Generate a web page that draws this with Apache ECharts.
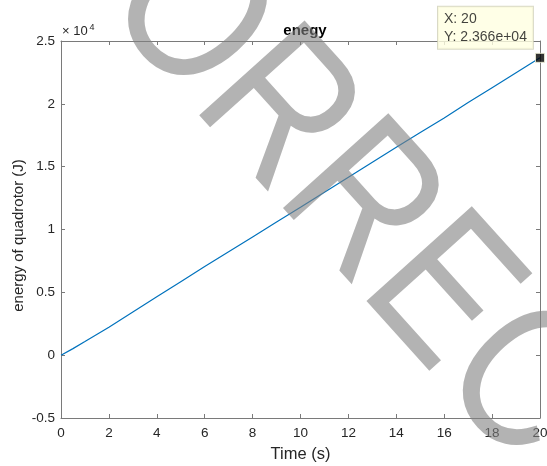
<!DOCTYPE html>
<html>
<head>
<meta charset="utf-8">
<script src="https://cdn.jsdelivr.net/npm/echarts@6/dist/echarts.min.js"></script>
<style>
html,body{margin:0;padding:0;background:#fff;}
#c{width:547px;height:466px;}
</style>
</head>
<body>
<div id="c"></div>
<script>
// ---- data ----
var times  = [0, 0.5, 1, 2, 3, 4, 5, 6, 7, 8, 9, 10, 11, 12, 13, 14, 15, 16, 17, 18, 19, 20];
var energy = [0, 520, 1080, 2230, 3430, 4640, 5850, 7050, 8230, 9410, 10590, 11770, 12960, 14160, 15360, 16540, 17710, 18880, 20100, 21280, 22470, 23660];
var xTicks = [0, 2, 4, 6, 8, 10, 12, 14, 16, 18, 20];
var yTicks = [-0.5, 0, 0.5, 1, 1.5, 2, 2.5]; // ×10^4
var titleText = 'enegy';
var xName = 'Time (s)';
var yName = 'energy of quadrotor (J)';
var watermark = 'CORRECTED';

var FONT = '"Liberation Sans", Arial, Helvetica, sans-serif';
var AX = '#7a7a7a';
var TXT = '#262626';

var pts = times.map(function (t, i) { return [t, energy[i]]; });
var tipPt = [times[times.length - 1], energy[energy.length - 1]];

function fmtExp(v) {
  var s = v.toExponential(3);
  return s.replace(/e([+-])(\d)$/, 'e$10$2');
}

var chart = echarts.init(document.getElementById('c'), null, {renderer: 'canvas'});
var axisCommon = {
  axisLine: {show: true, onZero: false, lineStyle: {color: AX, width: 1}},
  axisTick: {show: true, inside: true, length: 4, lineStyle: {color: AX, width: 1}},
  splitLine: {show: false}
};
chart.setOption({
  animation: false,
  backgroundColor: '#fff',
  title: {
    text: titleText, left: 300, top: 18, textAlign: 'center',
    textStyle: {fontFamily: FONT, fontSize: 15, fontWeight: 'bold', color: '#000'}
  },
  grid: {left: 61, right: 7, top: 41, bottom: 48, containLabel: false, outerBoundsMode: 'none'},
  xAxis: [
    Object.assign({
      type: 'value', min: xTicks[0], max: xTicks[xTicks.length - 1], interval: xTicks[1] - xTicks[0],
      position: 'bottom',
      name: xName, nameLocation: 'middle', nameGap: 28, nameMoveOverlap: false,
      nameTextStyle: {fontFamily: FONT, fontSize: 16.5, color: TXT},
      axisLabel: {fontFamily: FONT, fontSize: 13.5, color: TXT, margin: 8}
    }, axisCommon),
    Object.assign({
      type: 'value', min: xTicks[0], max: xTicks[xTicks.length - 1], interval: xTicks[1] - xTicks[0],
      position: 'top', axisLabel: {show: false}
    }, axisCommon)
  ],
  yAxis: [
    Object.assign({
      type: 'value', min: yTicks[0] * 1e4, max: yTicks[yTicks.length - 1] * 1e4, interval: (yTicks[1] - yTicks[0]) * 1e4,
      position: 'left',
      name: yName, nameLocation: 'middle', nameGap: 35, nameMoveOverlap: false,
      nameTextStyle: {fontFamily: FONT, fontSize: 15, color: TXT, padding: [0, 12, 0, 0]},
      axisLabel: {fontFamily: FONT, fontSize: 13.5, color: TXT, margin: 6,
        formatter: function (v) { return String(Math.round(v / 1e4 * 10) / 10); }}
    }, axisCommon),
    Object.assign({
      type: 'value', min: yTicks[0] * 1e4, max: yTicks[yTicks.length - 1] * 1e4, interval: (yTicks[1] - yTicks[0]) * 1e4,
      position: 'right', axisLabel: {show: false}
    }, axisCommon)
  ],
  series: [
    {
      type: 'line', data: pts, showSymbol: false, smooth: false,
      lineStyle: {color: '#0072bd', width: 1.2}, itemStyle: {color: '#0072bd'}, z: 3
    },
    {
      type: 'scatter', data: [tipPt], symbol: 'rect', symbolSize: 9,
      itemStyle: {color: '#000', borderColor: '#f2f2d8', borderWidth: 1},
      z: 5,
      label: {
        show: true, position: [-97, -4], align: 'left', verticalAlign: 'bottom',
        formatter: function (p) { return 'X: ' + p.value[0] + '\nY: ' + fmtExp(p.value[1]); },
        fontFamily: FONT, fontSize: 14, lineHeight: 18, color: '#111',
        backgroundColor: '#ffffe1', borderColor: '#cfcfb8', borderWidth: 1,
        padding: [3, 6, 3, 6]
      }
    }
  ],
  graphic: [
    {type: 'text', left: 62, top: 25, z: 10, silent: true,
      style: {text: '× 10', font: '13px ' + FONT, fill: TXT}},
    {type: 'text', left: 89.5, top: 23, z: 10, silent: true,
      style: {text: '4', font: '9px ' + FONT, fill: TXT}},
    {type: 'text', x: 425, y: 281, rotation: -48 * Math.PI / 180, scaleX: 0.84, scaleY: 1,
      z: 100, silent: true,
      style: {text: watermark, font: '206px ' + FONT, fill: 'rgba(128,128,128,0.6)',
        align: 'center', verticalAlign: 'middle'}}
  ]
});
</script>
</body>
</html>
